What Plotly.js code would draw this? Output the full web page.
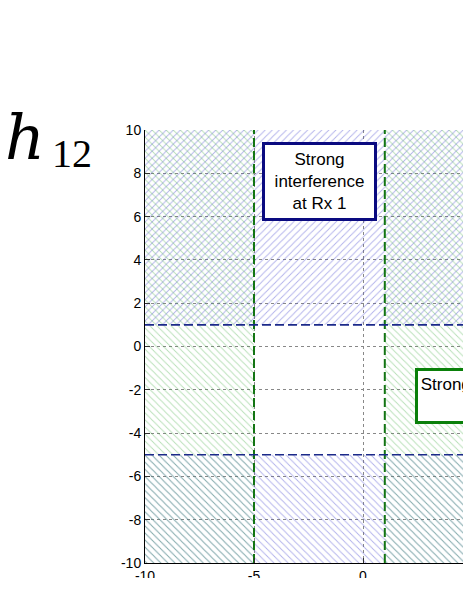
<!DOCTYPE html>
<html>
<head>
<meta charset="utf-8">
<script src="https://cdn.plot.ly/plotly-3.0.1.min.js"></script>
<style>
  html, body { margin: 0; padding: 0; overflow: hidden; background: #fff; }
  #chart { width: 600px; height: 599px; }
  #cut { position: absolute; left: 0; top: 578px; width: 600px; height: 30px; background: #fff; }
</style>
</head>
<body>
<div id="chart"></div>
<div id="cut"></div>
<script>
// axis limits and region boundaries
var axisRange = [-10, 10];
var xBounds = [-5, 1];   // green dashed verticals
var yBounds = [1, -5];   // blue dashed horizontals

var xTickVals = [-10, -5, 0, 5, 10];
var yTickVals = [-10, -8, -6, -4, -2, 0, 2, 4, 6, 8, 10];

var blueHatch = 'rgba(80,80,210,0.45)';
var greenHatch = 'rgba(70,175,70,0.4)';
var greenDash = '#137513';
var blueDash = '#1c2a8a';

function rect(x0, x1, y0, y1) {
  return {x: [x0, x1, x1, x0, x0], y: [y0, y0, y1, y1, y0]};
}

function hatch(r, shape, color) {
  return {
    x: r.x, y: r.y, type: 'scatter', mode: 'lines', fill: 'toself',
    line: {width: 0, color: 'rgba(0,0,0,0)'},
    fillcolor: 'rgba(0,0,0,0)',
    fillpattern: {shape: shape, fgcolor: color, bgcolor: 'rgba(0,0,0,0)', size: 5, solidity: 0.18},
    hoverinfo: 'skip', showlegend: false
  };
}

var data = [];
// strong interference at Rx 1: above and below
data.push(hatch(rect(axisRange[0], axisRange[1], yBounds[0], axisRange[1]), '/', blueHatch));
data.push(hatch(rect(axisRange[0], axisRange[1], axisRange[0], yBounds[1]), '\\', blueHatch));
// strong interference at Rx 2: left and right strips
data.push(hatch(rect(axisRange[0], xBounds[0], axisRange[0], axisRange[1]), '\\', greenHatch));
data.push(hatch(rect(xBounds[1], axisRange[1], axisRange[0], axisRange[1]), '\\', greenHatch));

for (let xv of xBounds) {
  data.push({x: [xv, xv], y: axisRange, type: 'scatter', mode: 'lines',
    line: {color: greenDash, width: 2, dash: '9px,4px'}, hoverinfo: 'skip', showlegend: false});
}
for (let yv of yBounds) {
  data.push({x: axisRange, y: [yv, yv], type: 'scatter', mode: 'lines',
    line: {color: blueDash, width: 1.6, dash: '9px,4px'}, hoverinfo: 'skip', showlegend: false});
}

var axisCommon = {
  range: axisRange, showgrid: true, gridcolor: '#888', griddash: 'dot', gridwidth: 1,
  zeroline: false, showline: true, linecolor: '#000', linewidth: 1,
  ticks: 'inside', ticklen: 5, tickcolor: '#333', mirror: false,
  tickfont: {family: 'Liberation Sans, Arial, sans-serif', size: 14, color: '#000'}
};

var boxFont = {family: 'Liberation Sans, Arial, sans-serif', size: 17, color: '#000'};

var layout = {
  width: 600, height: 599,
  margin: {l: 145, r: 19, t: 130, b: 36},
  paper_bgcolor: '#fff', plot_bgcolor: '#fff',
  xaxis: Object.assign({}, axisCommon, {tickmode: 'array', tickvals: xTickVals, ticktext: xTickVals.map(String)}),
  yaxis: Object.assign({}, axisCommon, {tickmode: 'array', tickvals: yTickVals, ticktext: yTickVals.map(String)}),
  annotations: [
    {x: -2, y: 7.62, xref: 'x', yref: 'y', text: 'Strong<br>interference<br>at Rx 1', showarrow: false,
      font: boxFont, bgcolor: '#fff', bordercolor: '#0a0a80', borderwidth: 3, borderpad: 2, width: 105, height: 69},
    {x: 2.39, y: -2.3, xref: 'x', yref: 'y', xanchor: 'left', text: 'Strong interference<br>at Rx 2', showarrow: false,
      font: boxFont, bgcolor: '#fff', bordercolor: '#0a800a', borderwidth: 3, borderpad: 2, width: 146, height: 46},
    {x: -0.326, y: 0.982, xref: 'paper', yref: 'paper', xanchor: 'left', yanchor: 'middle',
      text: '<i>h</i>', showarrow: false,
      font: {family: 'DejaVu Serif, serif', size: 62, color: '#000'}},
    {x: -0.219, y: 0.945, xref: 'paper', yref: 'paper', xanchor: 'left', yanchor: 'middle',
      text: '12', showarrow: false,
      font: {family: 'Liberation Serif, Times New Roman, serif', size: 40, color: '#000'}}
  ]
};

Plotly.newPlot('chart', data, layout, {displayModeBar: false, staticPlot: true});
</script>
</body>
</html>
